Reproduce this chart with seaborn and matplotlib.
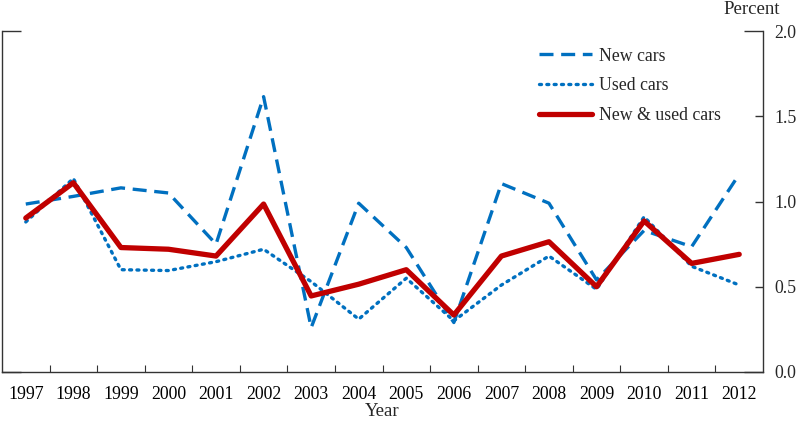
import matplotlib
matplotlib.use("Agg")
import matplotlib.pyplot as plt
import seaborn as sns
import pandas as pd
from matplotlib.ticker import FixedLocator, FixedFormatter

years = list(range(1997, 2013))
new_cars = [0.985, 1.03, 1.08, 1.05, 0.75, 1.615, 0.26, 0.99, 0.73, 0.29, 1.105, 0.99, 0.54, 0.83, 0.735, 1.16]
used_cars = [0.88, 1.135, 0.60, 0.595, 0.647, 0.72, 0.53, 0.31, 0.55, 0.30, 0.51, 0.68, 0.485, 0.91, 0.62, 0.51]
all_cars = [0.903, 1.11, 0.73, 0.72, 0.68, 0.985, 0.446, 0.515, 0.60, 0.334, 0.68, 0.764, 0.50, 0.886, 0.637, 0.69]
y_ticks = [0.0, 0.5, 1.0, 1.5, 2.0]

sns.set_style("white")
plt.rcParams['font.family'] = ['Liberation Serif', 'DejaVu Serif']

blue = "#0070C0"
red = "#C00000"

fig = plt.figure(figsize=(8, 4.22), dpi=100)
ax = fig.add_axes([2/800, 1-372/422, (763-2)/800, (372-31)/422])

idx = list(range(len(years)))
df = pd.DataFrame({"i": idx, "new": new_cars, "used": used_cars, "all": all_cars})

sns.lineplot(data=df, x="i", y="new", ax=ax, color=blue, lw=2.4, label="New cars",
             linestyle=(0, (4.2, 2.3)))
sns.lineplot(data=df, x="i", y="used", ax=ax, color=blue, lw=2.4, label="Used cars",
             linestyle=(0, (0.6, 1.6)))
sns.lineplot(data=df, x="i", y="all", ax=ax, color=red, lw=3.8, label="New & used cars")
ax.get_lines()[1].set_dash_capstyle("round")

ax.set_xlim(-0.5, 15.5)
ax.set_ylim(0, 2.0)

# x axis: labels at categories, tick marks between
ax.xaxis.set_major_locator(FixedLocator(idx))
ax.xaxis.set_major_formatter(FixedFormatter([str(y) for y in years]))
ax.xaxis.set_minor_locator(FixedLocator([i + 0.5 for i in idx[:-1]]))
ax.tick_params(axis='x', which='major', length=0, pad=10, labelsize=12.8, colors='black')
ax.tick_params(axis='x', which='minor', direction='in', length=5, width=0.8, color='#333333', bottom=True)

# y axis on right
ax.yaxis.set_major_locator(FixedLocator([0.0, 2.0]))
ax.yaxis.set_major_formatter(FixedFormatter(["0.0", "2.0"]))
ax.yaxis.set_minor_locator(FixedLocator(y_ticks[1:-1]))
ax.yaxis.set_minor_formatter(FixedFormatter([f"{v:.1f}" for v in y_ticks[1:-1]]))
ax.tick_params(axis='y', which='major', direction='in', length=14, width=1.0, left=True, right=True,
               labelleft=False, labelright=True, labelsize=12.8, pad=8, color='#333333')
ax.tick_params(axis='y', which='minor', direction='in', length=6, width=1.0, left=False, right=True,
               labelleft=False, labelright=True, labelsize=12.8, pad=8, color='#333333')

for s in ['left', 'right', 'bottom']:
    ax.spines[s].set_visible(True)
    ax.spines[s].set_color('#333333')
    ax.spines[s].set_linewidth(1.0)
ax.spines['top'].set_visible(False)

ax.set_xlabel("Year", fontsize=13.5, labelpad=0)
ax.set_ylabel("")
fig.text(752/800, 1-9/422, "Percent", ha='center', va='center', fontsize=13.5)

leg = ax.legend(loc='upper left', bbox_to_anchor=(530/761, 0.972), frameon=False, fontsize=12.8,
                handlelength=3.0, handletextpad=0.35, labelspacing=0.72, borderaxespad=0)

fig.savefig("out.png", dpi=100)
